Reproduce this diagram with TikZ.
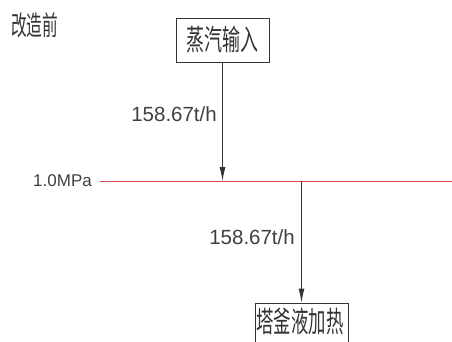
\documentclass[tikz,border=0pt]{standalone}
\usepackage{fontspec}
\setmainfont{Liberation Sans}
\newfontfamily\cjk{Noto Sans CJK SC}
\usetikzlibrary{arrows.meta}
\definecolor{ink}{HTML}{333333}
\definecolor{txt}{HTML}{404040}
\definecolor{pipe}{HTML}{D84848}
\newcommand{\narrowcjk}[3]{{\cjk\fontsize{#1}{#1}\selectfont\scalebox{#2}[1]{#3}}}
\begin{document}
\begin{tikzpicture}[x=1pt,y=-1pt,
  cjklabel/.style={inner sep=0pt,text=ink},
  unitbox/.style={draw=ink,line width=0.9pt,minimum width=93pt,minimum height=44pt,inner sep=0pt},
  flowlbl/.style={inner sep=0pt,text=txt,font=\fontsize{20.5}{20.5}\selectfont},
  flow/.style={draw=ink,line width=0.9pt,-{Latex[length=14pt,width=6pt]}},
  mainpipe/.style={draw=pipe,line width=1pt}]
\useasboundingbox (0,0) rectangle (452,342);
\clip (0,0) rectangle (452,342);
\node[cjklabel] (title) at (34.5,25.5) {\narrowcjk{27}{0.58}{改造前}};
\node[unitbox] (in) at (222.5,40) {};
\node[cjklabel] (intxt) at (in.center) {\narrowcjk{29}{0.62}{蒸汽输入}};
\node[unitbox] (out) at (301.5,325) {};
\node[cjklabel] (outtxt) at (300,321) {\narrowcjk{29}{0.6}{塔釜液加热}};
\node[flowlbl,font=\fontsize{17}{17}\selectfont,anchor=east] (press) at (92,181) {1.0MPa};
\coordinate (hl) at (100,181);
\coordinate (hr) at (452,181);
\coordinate (j1) at (222.5,181);
\coordinate (j2) at (301.5,181);
\draw[mainpipe] (hl) -- (hr);
\draw[flow] (in.south) -- (j1);
\draw[flow] (j2) -- (out.north);
\node[flowlbl,anchor=east] (f1) at (217,114) {158.67t/h};
\node[flowlbl,anchor=east] (f2) at (295,237.5) {158.67t/h};
\end{tikzpicture}
\end{document}
